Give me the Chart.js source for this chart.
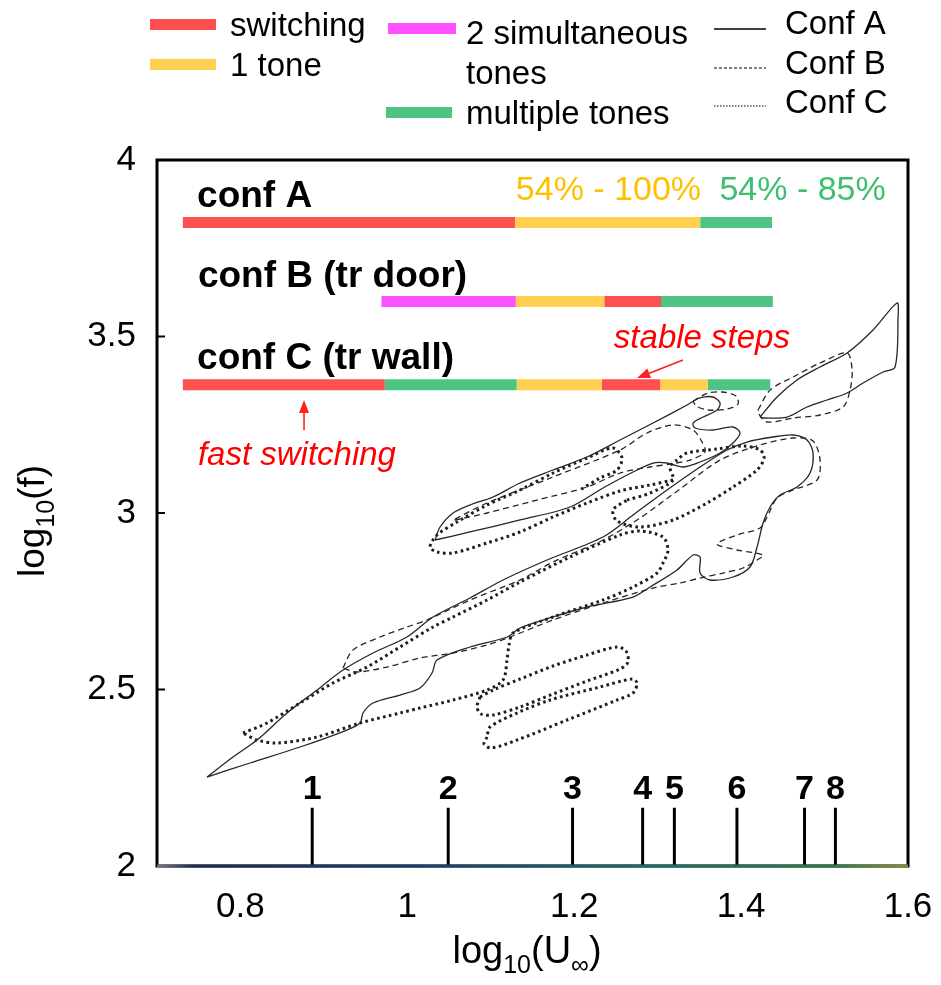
<!DOCTYPE html>
<html>
<head>
<meta charset="utf-8">
<script src="https://cdn.jsdelivr.net/npm/chart.js@4.4.1/dist/chart.umd.min.js"></script>
<style>
  html, body { margin: 0; padding: 0; background: #ffffff; }
  canvas { display: block; }
</style>
</head>
<body>
<canvas id="c" width="941" height="985"></canvas>
<script>
// ---------- axes ----------
const xTicks = [0.8, 1.0, 1.2, 1.4, 1.6];
const xTickText = ['0.8', '1', '1.2', '1.4', '1.6'];
const yTicks = [2, 2.5, 3, 3.5, 4];
const yTickText = ['2', '2.5', '3', '3.5', '4'];

// ---------- flow regimes along log10(U) for each configuration ----------
const regimeColor = { switching: '#FF5050', tone1: '#FFD050', simul: '#FF50FF', multi: '#4EC482' };
const confAEdges = [0.731, 1.129, 1.351, 1.437];
const confARegimes = ['switching', 'tone1', 'multi'];
const confBEdges = [0.969, 1.130, 1.236, 1.304, 1.438];
const confBRegimes = ['simul', 'tone1', 'switching', 'multi'];
const confCEdges = [0.731, 0.973, 1.131, 1.233, 1.303, 1.360, 1.435];
const confCRegimes = ['switching', 'multi', 'tone1', 'switching', 'tone1', 'multi'];
const barLevelA = 3.823;
const barLevelB = 3.599;
const barLevelC = 3.363;

// ---------- numbered operating points ----------
const markerNames = ['1', '2', '3', '4', '5', '6', '7', '8'];
const markerU = [0.886, 1.049, 1.198, 1.282, 1.320, 1.395, 1.476, 1.513];
const markerTop = 2.165;
const markerLabelLevel = 2.190;

// ---------- contour outlines: [log10(U), log10(f)] ----------
// Conf A (solid)
const confA_main = [
  [0.7599,2.2521],[0.7911,2.3088],[0.8199,2.3569],[0.8558,2.4334],[0.8918,2.4986],[0.9229,2.5552],
  [0.9589,2.6034],[0.9996,2.6487],[1.0308,2.7054],[1.0751,2.7592],[1.1147,2.8102],[1.1674,2.8668],
  [1.2345,2.9320],[1.2705,2.9943],[1.3112,3.0651],[1.3508,3.1303],[1.3832,3.1785],[1.4071,3.2011],
  [1.4383,3.2153],[1.4623,3.2210],[1.4790,3.2068],[1.4862,3.1700],[1.4826,3.1133],[1.4670,3.0736],
  [1.4467,3.0510],[1.4347,3.0170],[1.4263,2.9717],[1.4191,2.9037],[1.4107,2.8470],[1.3903,2.8187],
  [1.3628,2.8102],[1.3508,2.8300],[1.3508,2.8753],[1.3424,2.8810],[1.3232,2.8385],[1.2909,2.7904],
  [1.2705,2.7620],[1.2154,2.7337],[1.1746,2.7054],[1.1351,2.6742],[1.1195,2.6487],[1.0751,2.6204],
  [1.0356,2.5835],[1.0296,2.5467],[1.0152,2.5042],[0.9912,2.4844],[0.9589,2.4617],[0.9469,2.4334],
  [0.9433,2.4051],[0.9277,2.3852],[0.8714,2.3371],[0.8115,2.2918],[0.7599,2.2521]
];
const confA_upper = [
  [1.0332,2.9235],[1.0392,2.9603],[1.0548,3.0000],[1.0751,3.0226],[1.1027,3.0453],[1.1351,3.0850],
  [1.1746,3.1218],[1.2154,3.1586],[1.2549,3.2068],[1.2945,3.2549],[1.3352,3.3059],[1.3508,3.3258],
  [1.3664,3.3286],[1.3748,3.3116],[1.3712,3.2918],[1.3544,3.2719],[1.3424,3.2549],[1.3448,3.2408],
  [1.3664,3.2351],[1.3903,3.2436],[1.3987,3.2266],[1.3903,3.1983],[1.3748,3.1700],[1.3508,3.1445],
  [1.3304,3.1303],[1.3112,3.1416],[1.2945,3.1416],[1.2705,3.1161],[1.2345,3.0708],[1.1950,3.0170],
  [1.1351,2.9802],[1.0751,2.9462],[1.0332,2.9235]
];
const confA_high = [
  [1.4227,3.2719],[1.4431,3.3286],[1.4670,3.3768],[1.4946,3.4136],[1.5270,3.4533],[1.5581,3.5184],
  [1.5869,3.5949],[1.5881,3.5552],[1.5845,3.4136],[1.5701,3.3994],[1.5462,3.3683],[1.5270,3.3399],
  [1.5030,3.3201],[1.4790,3.3003],[1.4551,3.2719],[1.4263,3.2691],[1.4227,3.2719]
];
// Conf B (dashed)
const confB_high = [
  [1.4203,3.2918],[1.4347,3.3484],[1.4623,3.3853],[1.4946,3.4249],[1.5270,3.4533],[1.5330,3.4051],
  [1.5306,3.3484],[1.5222,3.3003],[1.4946,3.2776],[1.4623,3.2691],[1.4311,3.2578],[1.4203,3.2833],
  [1.4203,3.2918]
];
const confB_upper = [
  [1.0572,2.9830],[1.0955,3.0283],[1.1746,3.1020],[1.2549,3.1785],[1.2873,3.2266],[1.3184,3.2493],
  [1.3424,3.2351],[1.3532,3.2011],[1.3568,3.1728],[1.3388,3.1501],[1.3148,3.1388],[1.2909,3.1303],
  [1.2549,3.1133],[1.2154,3.0736],[1.1554,3.0368],[1.0955,3.0000],[1.0572,2.9802],[1.0572,2.9830]
];
const confB_small = [
  [1.3424,3.3173],[1.3604,3.3399],[1.3772,3.3428],[1.3939,3.3314],[1.3963,3.3088],[1.3832,3.2946],
  [1.3604,3.2918],[1.3460,3.3031],[1.3424,3.3173]
];
const confB_main = [
  [0.9229,2.5609],[0.9349,2.6119],[0.9673,2.6487],[0.9996,2.6770],[1.0236,2.6969],[1.0751,2.7535],
  [1.1351,2.8102],[1.1746,2.8612],[1.2345,2.9235],[1.2789,2.9858],[1.3268,3.0680],[1.3748,3.1501],
  [1.4227,3.1926],[1.4623,3.2125],[1.4862,3.2040],[1.4946,3.1501],[1.4910,3.0935],[1.4623,3.0651],
  [1.4431,3.0425],[1.4311,2.9887],[1.4227,2.9575],[1.3951,2.9377],[1.3712,2.9122],[1.3951,2.8952],
  [1.4263,2.8810],[1.4191,2.8668],[1.4023,2.8442],[1.3784,2.8300],[1.3508,2.8158],[1.3268,2.8017],
  [1.2945,2.7875],[1.2345,2.7450],[1.1746,2.6969],[1.1231,2.6487],[1.0955,2.6260],[1.0548,2.6034],
  [1.0152,2.5892],[0.9757,2.5637],[0.9397,2.5496],[0.9229,2.5609]
];
// Conf C (dotted)
const confC_main = [
  [0.8031,2.3768],[0.8318,2.4051],[0.8714,2.4617],[0.9109,2.5184],[0.9517,2.5637],[0.9912,2.6204],
  [1.0308,2.6770],[1.0548,2.7054],[1.0955,2.7535],[1.1351,2.8045],[1.1950,2.8753],[1.2549,2.9377],
  [1.2789,2.9490],[1.3064,2.9320],[1.3124,2.8952],[1.3064,2.8583],[1.2993,2.8300],[1.2705,2.7904],
  [1.2345,2.7535],[1.1746,2.7054],[1.1267,2.6600],[1.1219,2.6260],[1.1195,2.5835],[1.1147,2.5269],
  [1.0955,2.4986],[1.0548,2.4702],[1.0152,2.4476],[0.9912,2.4334],[0.9433,2.4051],[0.8918,2.3654],
  [0.8438,2.3484],[0.8199,2.3569],[0.8031,2.3768]
];
const confC_oval = [
  [1.2633,3.0368],[1.2909,3.0566],[1.3184,3.0935],[1.3148,3.1303],[1.3232,3.1501],[1.3352,3.1700],
  [1.3712,3.1813],[1.4023,3.1898],[1.4227,3.1785],[1.4275,3.1558],[1.4191,3.1218],[1.3903,3.0736],
  [1.3592,3.0283],[1.3184,2.9802],[1.2789,2.9603],[1.2513,2.9773],[1.2465,3.0085],[1.2633,3.0368]
];
const confC_upper = [
  [1.3184,3.0935],[1.2909,3.0793],[1.2549,3.0623],[1.2154,3.0283],[1.1746,2.9887],[1.1351,2.9462],
  [1.0955,2.9150],[1.0548,2.8867],[1.0356,2.8895],[1.0272,2.9037],[1.0356,2.9377],[1.0596,2.9745],
  [1.0955,3.0226],[1.1351,3.0651],[1.1746,3.1133],[1.2154,3.1558],[1.2465,3.1841],[1.2573,3.1558],
  [1.2513,3.1218],[1.2309,3.0991],[1.2070,3.0651]
];
const confC_loop1 = [
  [1.0871,2.4787],[1.0835,2.4504],[1.0883,2.4306],[1.1027,2.4277],[1.1351,2.4504],[1.1746,2.4872],
  [1.2154,2.5241],[1.2549,2.5581],[1.2645,2.5779],[1.2621,2.6090],[1.2513,2.6204],[1.2154,2.5977],
  [1.1746,2.5666],[1.1351,2.5297],[1.1027,2.4986],[1.0871,2.4787]
];
const confC_loop2 = [
  [1.0955,2.3654],[1.0919,2.3456],[1.1003,2.3343],[1.1315,2.3569],[1.1914,2.4136],[1.2513,2.4702],
  [1.2705,2.4901],[1.2753,2.5184],[1.2693,2.5297],[1.2309,2.5071],[1.1710,2.4702],[1.1315,2.4334],
  [1.0991,2.3937],[1.0955,2.3654]
];

// ---------- annotation texts ----------
const confLabels = ['conf A', 'conf B (tr door)', 'conf C (tr wall)'];
const confLabelPos = [[0.748, 3.868], [0.749, 3.641], [0.748, 3.407]];
const shareLabels = ['54% - 100%', '54% - 85%'];
const shareLabelPos = [[1.130, 3.887], [1.374, 3.887]];
const shareColors = ['#FFC000', '#3CBF6E'];
const noteLabels = ['stable steps', 'fast switching'];
const notePos = [[1.2475, 3.467], [0.749, 3.136]];
const arrowFrom = [[1.3304, 3.4334], [0.8762, 3.2351]];
const arrowTo = [[1.2753, 3.3824], [0.8762, 3.3201]];

const FONT = "'Liberation Sans', Arial, Helvetica, sans-serif";
const INK = '#262626';

// ---------- datasets ----------
const lineStyles = {
  A: { borderWidth: 1.3, borderDash: [] },
  B: { borderWidth: 1.3, borderDash: [6, 4] },
  C: { borderWidth: 3, borderDash: [2.6, 3.4] }
};
function outline(points, conf) {
  return {
    data: points.map(p => ({ x: p[0], y: p[1] })),
    showLine: true, pointRadius: 0, tension: 0.3, fill: false,
    borderColor: conf === 'C' ? '#1c1c1c' : INK, borderWidth: lineStyles[conf].borderWidth,
    borderDash: lineStyles[conf].borderDash
  };
}
function regimeBars(edges, regimes, level) {
  return regimes.map((r, i) => ({
    data: [{ x: edges[i], y: level }, { x: edges[i + 1], y: level }],
    showLine: true, pointRadius: 0, tension: 0, fill: false,
    borderColor: regimeColor[r], borderWidth: 11, borderCapStyle: 'butt'
  }));
}
function markerLines() {
  return markerU.map(u => ({
    data: [{ x: u, y: 2 }, { x: u, y: markerTop }],
    showLine: true, pointRadius: 0, fill: false, clip: false,
    borderColor: '#000', borderWidth: 3, borderCapStyle: 'butt'
  }));
}
const baseLine = {
  data: [{ x: 0.7, y: 2 }, { x: 1.6, y: 2 }],
  showLine: true, pointRadius: 0, fill: false, clip: false, borderWidth: 3,
  borderColor: (c) => {
    const ca = c.chart.chartArea;
    if (!ca) return '#1d3f5e';
    const g = c.chart.ctx.createLinearGradient(ca.left, 0, ca.right, 0);
    g.addColorStop(0, '#7a7a7a');
    g.addColorStop(0.05, '#1e2a55');
    g.addColorStop(0.35, '#1b3f6e');
    g.addColorStop(0.65, '#1f6a66');
    g.addColorStop(0.9, '#2d7a4a');
    g.addColorStop(1, '#8c8a3a');
    return g;
  }
};

const datasets = [
  baseLine,
  ...markerLines(),
  ...regimeBars(confAEdges, confARegimes, barLevelA),
  ...regimeBars(confBEdges, confBRegimes, barLevelB),
  ...regimeBars(confCEdges, confCRegimes, barLevelC),
  outline(confA_main, 'A'), outline(confA_upper, 'A'), outline(confA_high, 'A'),
  outline(confB_main, 'B'), outline(confB_upper, 'B'), outline(confB_small, 'B'), outline(confB_high, 'B'),
  outline(confC_main, 'C'), outline(confC_oval, 'C'), outline(confC_upper, 'C'),
  outline(confC_loop1, 'C'), outline(confC_loop2, 'C')
];

// ---------- drawing helpers ----------
function drawParts(ctx, parts, size, subSize, subDrop) {
  // centred run of text pieces, subscripts dropped below the baseline
  let w = 0;
  parts.forEach(p => {
    ctx.font = (p.sub ? subSize : size) + 'px ' + FONT;
    w += ctx.measureText(p.t).width;
  });
  let x = -w / 2;
  parts.forEach(p => {
    ctx.font = (p.sub ? subSize : size) + 'px ' + FONT;
    ctx.fillText(p.t, x, p.sub ? subDrop : 0);
    x += ctx.measureText(p.t).width;
  });
}
function arrow(ctx, x0, y0, x1, y1, color) {
  const a = Math.atan2(y1 - y0, x1 - x0);
  const L = 13, W = 5;
  ctx.save();
  ctx.strokeStyle = color; ctx.fillStyle = color; ctx.lineWidth = 1.6;
  ctx.beginPath(); ctx.moveTo(x0, y0);
  ctx.lineTo(x1 - L * Math.cos(a) * 0.8, y1 - L * Math.sin(a) * 0.8); ctx.stroke();
  ctx.beginPath();
  ctx.moveTo(x1, y1);
  ctx.lineTo(x1 - L * Math.cos(a) + W * Math.sin(a), y1 - L * Math.sin(a) - W * Math.cos(a));
  ctx.lineTo(x1 - L * Math.cos(a) - W * Math.sin(a), y1 - L * Math.sin(a) + W * Math.cos(a));
  ctx.closePath(); ctx.fill();
  ctx.restore();
}

const framePlugin = {
  id: 'frame',
  beforeDatasetsDraw(chart) {
    const { ctx, chartArea: ca, scales: { y } } = chart;
    ctx.save();
    ctx.strokeStyle = '#000'; ctx.lineWidth = 3;
    ctx.strokeRect(ca.left, ca.top, ca.right - ca.left, ca.bottom - ca.top);
    ctx.lineWidth = 2;
    yTicks.forEach(v => {
      const py = y.getPixelForValue(v);
      ctx.beginPath(); ctx.moveTo(ca.left, py); ctx.lineTo(ca.left + 8, py); ctx.stroke();
    });
    ctx.restore();
  },
  afterDatasetsDraw(chart) {
    const { ctx, scales: { x, y } } = chart;
    ctx.save();
    ctx.textBaseline = 'alphabetic';
    // configuration names
    ctx.fillStyle = '#000';
    ctx.font = 'bold 37px ' + FONT;
    ctx.textAlign = 'left';
    confLabels.forEach((t, i) => ctx.fillText(t, x.getPixelForValue(confLabelPos[i][0]), y.getPixelForValue(confLabelPos[i][1])));
    // share of time labels
    ctx.font = '34px ' + FONT;
    shareLabels.forEach((t, i) => {
      ctx.fillStyle = shareColors[i];
      ctx.fillText(t, x.getPixelForValue(shareLabelPos[i][0]), y.getPixelForValue(shareLabelPos[i][1]));
    });
    // notes with arrows
    ctx.fillStyle = '#FF0000';
    ctx.font = 'italic 33px ' + FONT;
    noteLabels.forEach((t, i) => {
      ctx.fillText(t, x.getPixelForValue(notePos[i][0]), y.getPixelForValue(notePos[i][1]));
      arrow(ctx, x.getPixelForValue(arrowFrom[i][0]), y.getPixelForValue(arrowFrom[i][1]),
                 x.getPixelForValue(arrowTo[i][0]), y.getPixelForValue(arrowTo[i][1]), '#FF2020');
    });
    // numbered operating points
    ctx.fillStyle = '#000';
    ctx.font = 'bold 34px ' + FONT;
    ctx.textAlign = 'center';
    markerNames.forEach((t, i) => ctx.fillText(t, x.getPixelForValue(markerU[i]), y.getPixelForValue(markerLabelLevel)));
    ctx.restore();
  },
  afterDraw(chart) {
    const { ctx } = chart;
    ctx.save();
    ctx.fillStyle = '#000';
    ctx.textBaseline = 'alphabetic';
    ctx.textAlign = 'left';
    // axis titles
    ctx.save();
    ctx.translate(527, 963);
    drawParts(ctx, [{ t: 'log' }, { t: '10', sub: true }, { t: '(U' }, { t: '\u221E', sub: true }, { t: ')' }], 38, 25, 10);
    ctx.restore();
    ctx.save();
    ctx.translate(44, 521);
    ctx.rotate(-Math.PI / 2);
    drawParts(ctx, [{ t: 'log' }, { t: '10', sub: true }, { t: '(f)' }], 37, 25, 10);
    ctx.restore();

    // legend: regimes
    const sw = [
      { c: regimeColor.switching, x: 150, y: 19, w: 66, lines: ['switching'], tx: 230, ty: [36] },
      { c: regimeColor.tone1, x: 150, y: 59, w: 66, lines: ['1 tone'], tx: 230, ty: [76] },
      { c: regimeColor.simul, x: 388, y: 23, w: 68, lines: ['2 simultaneous', 'tones'], tx: 466, ty: [44, 84] },
      { c: regimeColor.multi, x: 386, y: 107, w: 66, lines: ['multiple tones'], tx: 466, ty: [124] }
    ];
    ctx.font = '33px ' + FONT;
    sw.forEach(s => {
      ctx.fillStyle = s.c;
      ctx.fillRect(s.x, s.y, s.w, 11);
      ctx.fillStyle = '#000';
      s.lines.forEach((t, i) => ctx.fillText(t, s.tx, s.ty[i]));
    });
    // legend: configurations
    const confLeg = [
      { t: 'Conf A', y: 29, st: lineStyles.A, ty: 34 },
      { t: 'Conf B', y: 68, st: { borderWidth: 1.2, borderDash: [3, 2] }, ty: 74 },
      { t: 'Conf C', y: 106, st: { borderWidth: 1.2, borderDash: [1.5, 1.5] }, ty: 113 }
    ];
    confLeg.forEach(c => {
      ctx.strokeStyle = '#000';
      ctx.lineWidth = c.st.borderWidth;
      ctx.setLineDash(c.st.borderDash);
      ctx.beginPath(); ctx.moveTo(714, c.y); ctx.lineTo(766, c.y); ctx.stroke();
      ctx.setLineDash([]);
      ctx.fillText(c.t, 785, c.ty);
    });
    ctx.restore();
  }
};

new Chart(document.getElementById('c'), {
  type: 'scatter',
  data: { datasets },
  options: {
    responsive: false,
    animation: false,
    devicePixelRatio: 1,
    events: [],
    layout: { padding: { top: 160, right: 33, left: 0, bottom: 0 } },
    plugins: { legend: { display: false }, tooltip: { enabled: false } },
    scales: {
      x: {
        type: 'linear', min: 0.7, max: 1.6,
        grid: { display: false }, border: { display: false },
        afterBuildTicks: s => { s.ticks = xTicks.map(v => ({ value: v })); },
        afterFit: s => { s.height = 119; s.paddingLeft = 0; s.paddingRight = 0; },
        ticks: {
          color: '#000', font: { family: FONT, size: 35 }, padding: 12,
          maxRotation: 0, autoSkip: false,
          callback: (v) => xTickText[xTicks.indexOf(v)]
        }
      },
      y: {
        type: 'linear', min: 2, max: 4,
        grid: { display: false }, border: { display: false },
        afterBuildTicks: s => { s.ticks = yTicks.map(v => ({ value: v })); },
        afterFit: s => { s.width = 157; s.paddingTop = 0; s.paddingBottom = 0; },
        ticks: {
          color: '#000', font: { family: FONT, size: 35 }, padding: 13,
          autoSkip: false,
          callback: (v) => yTickText[yTicks.indexOf(v)]
        }
      }
    }
  },
  plugins: [framePlugin]
});
</script>
</body>
</html>
